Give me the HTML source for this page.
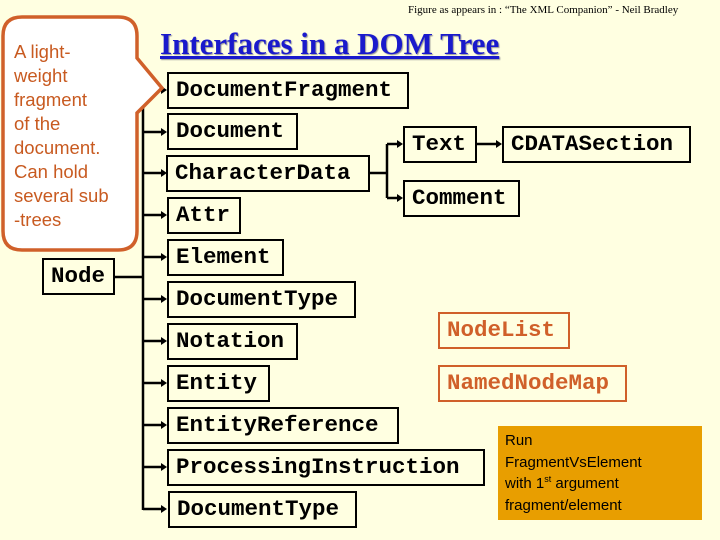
<!DOCTYPE html>
<html><head><meta charset="utf-8"><style>
body{margin:0;width:720px;height:540px;background:#ffffe1;position:relative;overflow:hidden}
.b{position:absolute;border:2px solid #000;box-sizing:border-box;font-family:"Liberation Mono",monospace;font-size:22.5px;line-height:32px;padding-left:7px;color:#000;white-space:nowrap;font-weight:bold;-webkit-text-stroke:0}
.o{border-color:#d0602a;color:#d0602a}
svg{position:absolute;left:0;top:0}
</style></head><body>
<svg width="720" height="540">
<g stroke="#000" stroke-width="2.5" fill="none">
<line x1="143" y1="90" x2="143" y2="510"/>
<line x1="114" y1="277" x2="143" y2="277"/>
<line x1="143" y1="90" x2="163" y2="90"/>
<line x1="143" y1="132" x2="163" y2="132"/>
<line x1="143" y1="173" x2="163" y2="173"/>
<line x1="143" y1="215" x2="163" y2="215"/>
<line x1="143" y1="257" x2="163" y2="257"/>
<line x1="143" y1="299" x2="163" y2="299"/>
<line x1="143" y1="341" x2="163" y2="341"/>
<line x1="143" y1="383" x2="163" y2="383"/>
<line x1="143" y1="425" x2="163" y2="425"/>
<line x1="143" y1="467" x2="163" y2="467"/>
<line x1="143" y1="509" x2="163" y2="509"/>
<line x1="370" y1="173" x2="387" y2="173"/>
<line x1="387" y1="144" x2="387" y2="198"/>
<line x1="387" y1="144" x2="399" y2="144"/>
<line x1="387" y1="198" x2="399" y2="198"/>
<line x1="477" y1="144" x2="498" y2="144"/>
</g>
<g fill="#000">
<polygon points="161,86 167,90 161,94"/><polygon points="161,128 167,132 161,136"/><polygon points="161,169 167,173 161,177"/><polygon points="161,211 167,215 161,219"/><polygon points="161,253 167,257 161,261"/><polygon points="161,295 167,299 161,303"/><polygon points="161,337 167,341 161,345"/><polygon points="161,379 167,383 161,387"/><polygon points="161,421 167,425 161,429"/><polygon points="161,463 167,467 161,471"/><polygon points="161,505 167,509 161,513"/>
<polygon points="397,140 403,144 397,148"/><polygon points="397,194 403,198 397,202"/><polygon points="496,140 502,144 496,148"/>
</g>
<path d="M22,17 H118 Q137,17 137,36 V58 L162,88 L137,113 V231 Q137,250 118,250 H22 Q3,250 3,231 V36 Q3,17 22,17 Z" fill="#fff" stroke="#d0602a" stroke-width="3.5"/>
</svg>
<div style="position:absolute;left:14px;top:40px;width:120px;font-family:'Liberation Sans',sans-serif;font-size:18.5px;line-height:24px;color:#c85a20">A light-<br>weight<br>fragment<br>of the<br>document.<br>Can hold<br>several sub<br>-trees</div>
<div style="position:absolute;left:408px;top:4px;font-family:'Liberation Serif',serif;font-size:11px;color:#000">Figure as appears in : “The XML Companion” - Neil Bradley</div>
<div style="position:absolute;left:160px;top:26px;font-family:'Liberation Serif',serif;font-size:31px;font-weight:bold;color:#1a1acc;text-decoration:underline;text-shadow:1px 1px 1px #999">Interfaces in a DOM Tree</div>
<div class="b" style="left:42px;top:258px;width:73px;height:37px">Node</div>
<div class="b" style="left:167px;top:72px;width:242px;height:37px">DocumentFragment</div>
<div class="b" style="left:167px;top:113px;width:131px;height:37px">Document</div>
<div class="b" style="left:166px;top:155px;width:204px;height:37px">CharacterData</div>
<div class="b" style="left:167px;top:197px;width:74px;height:37px">Attr</div>
<div class="b" style="left:167px;top:239px;width:117px;height:37px">Element</div>
<div class="b" style="left:167px;top:281px;width:189px;height:37px">DocumentType</div>
<div class="b" style="left:167px;top:323px;width:131px;height:37px">Notation</div>
<div class="b" style="left:167px;top:365px;width:103px;height:37px">Entity</div>
<div class="b" style="left:167px;top:407px;width:232px;height:37px">EntityReference</div>
<div class="b" style="left:167px;top:449px;width:318px;height:37px">ProcessingInstruction</div>
<div class="b" style="left:168px;top:491px;width:189px;height:37px">DocumentType</div>
<div class="b" style="left:403px;top:126px;width:74px;height:37px">Text</div>
<div class="b" style="left:502px;top:126px;width:189px;height:37px">CDATASection</div>
<div class="b" style="left:403px;top:180px;width:117px;height:37px">Comment</div>
<div class="b o" style="left:438px;top:312px;width:132px;height:37px">NodeList</div>
<div class="b o" style="left:438px;top:365px;width:189px;height:37px">NamedNodeMap</div>
<div style="position:absolute;left:498px;top:426px;width:204px;height:94px;background:#e89e00;box-sizing:border-box;padding:4px 0 0 7px;font-family:'Liberation Sans',sans-serif;font-size:15px;line-height:21.5px;color:#000">Run<br>FragmentVsElement<br>with 1<sup style="font-size:9px;line-height:0">st</sup> argument<br>fragment/element</div>
</body></html>
